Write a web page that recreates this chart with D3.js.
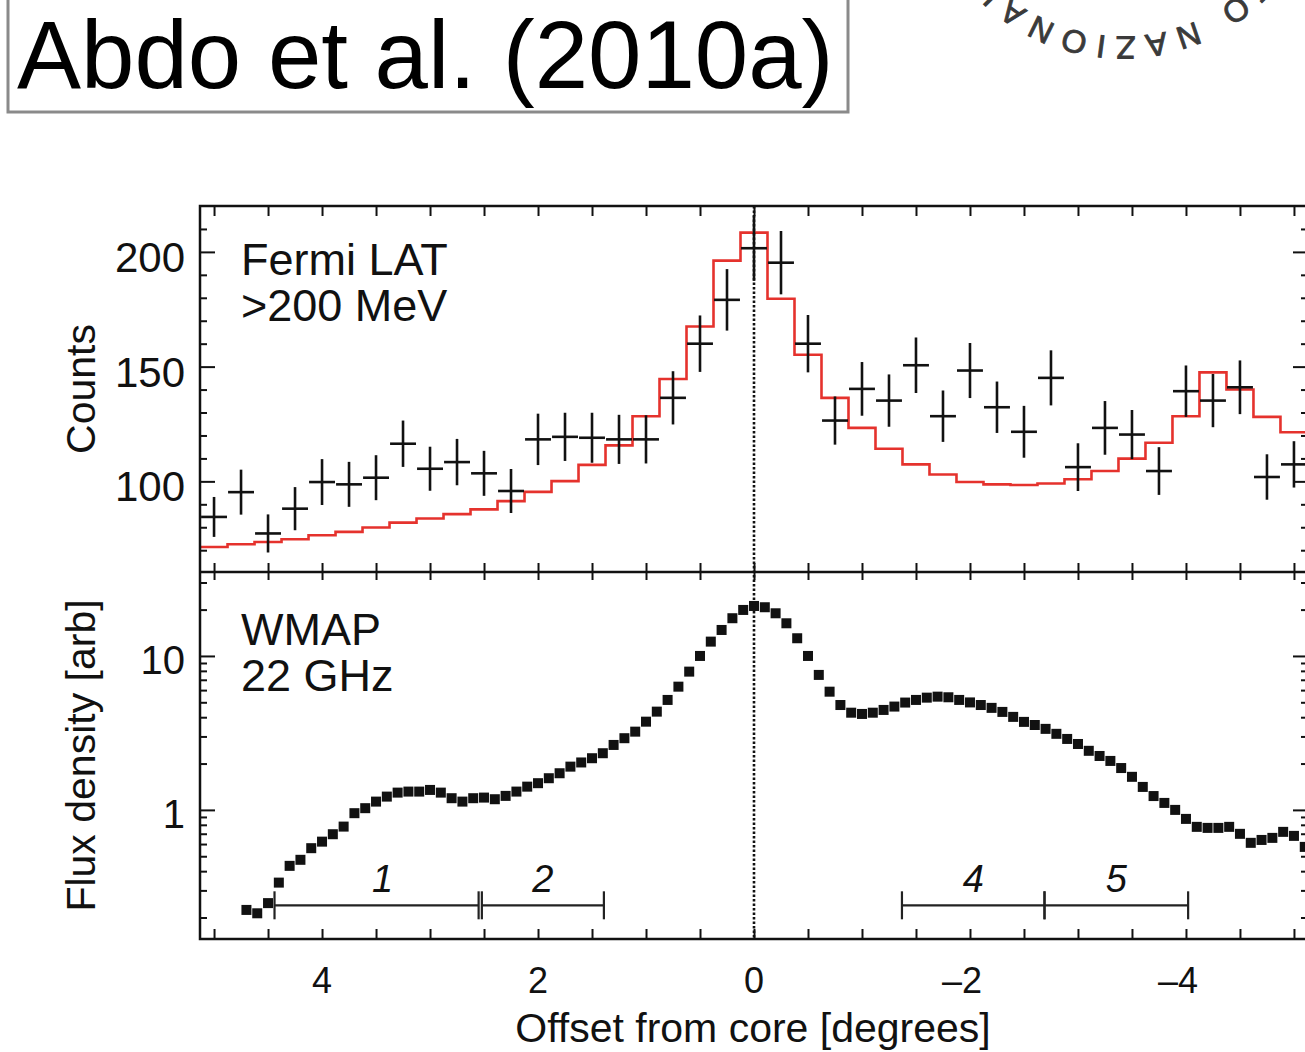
<!DOCTYPE html>
<html>
<head>
<meta charset="utf-8">
<script src="https://cdn.jsdelivr.net/npm/d3@7"></script>
<style>
  html, body { margin: 0; padding: 0; background: #fff; }
  svg { display: block; }
  text { font-family: "Liberation Sans", Arial, Helvetica, sans-serif; }
</style>
</head>
<body>
<svg id="chart" width="1305" height="1052"></svg>
<script>
// ---- Fermi LAT profile (>200 MeV), 0.25 deg bins ----
const fermiOffsets = [5.0, 4.75, 4.5, 4.25, 4.0, 3.75, 3.5, 3.25, 3.0, 2.75, 2.5, 2.25, 2.0, 1.75, 1.5, 1.25, 1.0, 0.75, 0.5, 0.25, 0.0,
  -0.25, -0.5, -0.75, -1.0, -1.25, -1.5, -1.75, -2.0, -2.25, -2.5, -2.75, -3.0, -3.25, -3.5, -3.75, -4.0, -4.25, -4.5, -4.75, -5.0];
const fermiCounts = [84.5, 95.3, 77.3, 88.1, 99.7, 98.7, 101.6, 116.4, 105.5, 108.4, 103.5, 95.8, 118.3, 119.4, 119.0, 118.3, 118.3, 136.4, 160.0, 179.1, 201.6,
  195.3, 160.0, 126.5, 140.3, 135.2, 150.6, 128.4, 148.3, 132.3, 121.6, 145.1, 106.2, 123.3, 120.4, 104.5, 139.3, 135.2, 141.0, 101.9, 107.4];
const fermiErrors = [8.7, 9.8, 8.3, 9.4, 10.0, 9.8, 9.8, 10.1, 9.6, 10.1, 9.8, 9.6, 11.2, 10.5, 10.9, 10.7, 10.5, 11.6, 12.3, 13.4, 14.2,
  13.8, 12.5, 10.5, 11.7, 11.4, 12.1, 11.2, 12.0, 11.2, 11.3, 12.0, 10.4, 11.7, 10.7, 10.4, 11.2, 11.6, 11.7, 9.9, 10.1];
// model counts per bin (red histogram)
const modelCounts = [71.4, 72.6, 73.6, 74.8, 76.5, 78.0, 79.9, 82.0, 83.8, 85.7, 87.8, 91.4, 95.4, 100.1, 107.2, 115.7, 128.4, 144.6, 167.5, 196.2, 208.4,
  179.6, 155.2, 136.4, 123.3, 114.2, 107.4, 103.0, 99.7, 98.7, 98.4, 99.1, 100.9, 104.5, 109.9, 116.8, 128.4, 147.5, 140.0, 128.1, 121.4];
const binHalfWidth = 0.125;

// ---- WMAP 22 GHz profile ----
const wmapOffsets = [4.7, 4.6, 4.5, 4.4, 4.3, 4.2, 4.1, 4.0, 3.9, 3.8, 3.7, 3.6, 3.5, 3.4, 3.3, 3.2, 3.1, 3.0, 2.9, 2.8, 2.7, 2.6, 2.5, 2.4, 2.3, 2.2, 2.1, 2.0,
  1.9, 1.8, 1.7, 1.6, 1.5, 1.4, 1.3, 1.2, 1.1, 1.0, 0.9, 0.8, 0.7, 0.6, 0.5, 0.4, 0.3, 0.2, 0.1, 0.0,
  -0.1, -0.2, -0.3, -0.4, -0.5, -0.6, -0.7, -0.8, -0.9, -1.0, -1.1, -1.2, -1.3, -1.4, -1.5, -1.6, -1.7, -1.8, -1.9, -2.0,
  -2.1, -2.2, -2.3, -2.4, -2.5, -2.6, -2.7, -2.8, -2.9, -3.0, -3.1, -3.2, -3.3, -3.4, -3.5, -3.6, -3.7, -3.8, -3.9, -4.0,
  -4.1, -4.2, -4.3, -4.4, -4.5, -4.6, -4.7, -4.8, -4.9, -5.0, -5.1];
const wmapFlux = [0.224, 0.213, 0.248, 0.337, 0.433, 0.474, 0.564, 0.622, 0.695, 0.779, 0.952, 1.026, 1.132, 1.220, 1.295, 1.315, 1.315, 1.348, 1.295, 1.191, 1.132, 1.191, 1.202, 1.173, 1.233, 1.315, 1.416, 1.491,
  1.606, 1.730, 1.910, 2.033, 2.166, 2.334, 2.642, 2.922, 3.223, 3.742, 4.348, 5.179, 6.317, 7.910, 10.0, 12.39, 14.75, 17.58, 19.90, 21.12,
  20.72, 18.93, 16.30, 13.03, 10.0, 7.53, 5.86, 4.80, 4.28, 4.20, 4.28, 4.46, 4.69, 4.98, 5.18, 5.36, 5.44, 5.39, 5.18, 4.99,
  4.80, 4.60, 4.33, 4.02, 3.73, 3.56, 3.36, 3.12, 2.89, 2.68, 2.42, 2.24, 2.08, 1.87, 1.64, 1.41, 1.23, 1.11, 1.00, 0.874,
  0.776, 0.764, 0.764, 0.776, 0.699, 0.611, 0.638, 0.658, 0.720, 0.678, 0.575];

// ---- analysis regions ----
const regionLabels = ["1", "2", "4", "5"];
const regionStarts = [4.44, 2.52, -1.37, -2.69];
const regionEnds = [2.55, 1.39, -2.69, -4.02];
const regionLevel = 0.24;

// ---- tick labels ----
const countTickLabels = [200, 150, 100];
const fluxTickLabels = [10, 1];
const offsetTickLabels = [4, 2, 0, -2, -4];

// ---- layout ----
const frameL = 200, frameR = 1308, frameT = 206, frameM = 572, frameB = 939;
const x = d3.scaleLinear().domain([5.13, -5.13]).range([frameL, frameR]);
const yC = d3.scaleLinear().domain([60.5, 220]).range([frameM, frameT]);
const yF = d3.scaleLog().domain([0.145, 35.1]).range([frameB, frameM]);

const svg = d3.select("#chart");
const ink = "#111";

// ---- citation box ----
svg.append("rect").attr("x", 8).attr("y", -10).attr("width", 840).attr("height", 122)
  .attr("fill", "#fff").attr("stroke", "#8a8a8a").attr("stroke-width", 3);
svg.append("text").attr("x", 17).attr("y", 88).attr("font-size", 96).attr("fill", "#000")
  .text("Abdo et al. (2010a)");

// ---- institute seal lettering (lower arc of the circular logo) ----
const sealCx = 1122, sealCy = -145, sealR = 181.5;
svg.append("path").attr("id", "sealArc")
  .attr("d", `M${sealCx},${sealCy - sealR} A${sealR},${sealR} 0 1 1 ${sealCx},${sealCy + sealR} A${sealR},${sealR} 0 1 1 ${sealCx},${sealCy - sealR}`)
  .attr("fill", "none").attr("stroke", "none");
svg.append("text").attr("font-size", 32).attr("fill", "#3a3a3a").attr("letter-spacing", 9)
  .attr("stroke", "#3a3a3a").attr("stroke-width", 0.9)
  .append("textPath").attr("href", "#sealArc").attr("startOffset", 259)
  .text("ISTITUTO NAZIONALE DI ASTROFISICA");

// ---- upper panel: model histogram ----
const stepPts = fermiOffsets.map((d, i) => [d + binHalfWidth, modelCounts[i]]);
stepPts.push([fermiOffsets[fermiOffsets.length - 1] - binHalfWidth, modelCounts[modelCounts.length - 1]]);
svg.append("path")
  .attr("d", d3.line().x(p => x(p[0])).y(p => yC(p[1])).curve(d3.curveStepAfter)(stepPts))
  .attr("fill", "none").attr("stroke", "#e5322d").attr("stroke-width", 2.6);

// ---- upper panel: counts with error bars ----
const crosses = svg.append("g").attr("stroke", ink).attr("stroke-width", 2.6);
fermiOffsets.forEach((d, i) => {
  const c = fermiCounts[i], e = fermiErrors[i];
  crosses.append("line").attr("x1", x(d)).attr("x2", x(d)).attr("y1", yC(c - e)).attr("y2", yC(c + e));
  crosses.append("line").attr("x1", x(d + 0.12)).attr("x2", x(d - 0.12)).attr("y1", yC(c)).attr("y2", yC(c));
});

// ---- lower panel: WMAP squares ----
const sq = 10;
svg.append("g").selectAll("rect").data(wmapOffsets).join("rect")
  .attr("x", (d) => x(d) - sq / 2)
  .attr("y", (d, i) => yF(wmapFlux[i]) - sq / 2)
  .attr("width", sq).attr("height", sq).attr("fill", ink);

// ---- lower panel: region bars ----
const reg = svg.append("g").attr("stroke", "#222").attr("stroke-width", 2.2);
const yr = yF(regionLevel);
regionLabels.forEach((lab, i) => {
  const x0 = x(regionStarts[i]), x1 = x(regionEnds[i]);
  reg.append("line").attr("x1", x0).attr("x2", x1).attr("y1", yr).attr("y2", yr);
  reg.append("line").attr("x1", x0).attr("x2", x0).attr("y1", yr - 14).attr("y2", yr + 14);
  reg.append("line").attr("x1", x1).attr("x2", x1).attr("y1", yr - 14).attr("y2", yr + 14);
  svg.append("text").attr("x", (x0 + x1) / 2 + (i === 0 ? 6 : 0)).attr("y", yr - 13)
    .attr("text-anchor", "middle").attr("font-size", 38).attr("font-style", "italic").attr("fill", "#111")
    .text(lab);
});

// ---- zero-offset dotted line ----
svg.append("line").attr("x1", x(0)).attr("x2", x(0)).attr("y1", frameT).attr("y2", frameB)
  .attr("stroke", ink).attr("stroke-width", 2.6).attr("stroke-dasharray", "2.5,2");

// ---- axes: ticks ----
const halfDeg = d3.range(-10, 11).map(k => k / 2);
function styleAxis(g) {
  g.select(".domain").remove();
  g.selectAll(".tick line").attr("stroke", ink).attr("stroke-width", 2);
  g.selectAll(".tick text").remove();
}
// x ticks on all horizontal frame lines, pointing inward
svg.append("g").attr("transform", `translate(0,${frameT})`).call(d3.axisBottom(x).tickValues(halfDeg).tickSize(10)).call(styleAxis);
svg.append("g").attr("transform", `translate(0,${frameM})`).call(d3.axisTop(x).tickValues(halfDeg).tickSize(9)).call(styleAxis);
svg.append("g").attr("transform", `translate(0,${frameM})`).call(d3.axisBottom(x).tickValues(halfDeg).tickSize(8)).call(styleAxis);
svg.append("g").attr("transform", `translate(0,${frameB})`).call(d3.axisTop(x).tickValues(halfDeg).tickSize(10)).call(styleAxis);

// count ticks: every 10, longer every 50
const countMinor = d3.range(70, 220, 10).filter(v => v % 50 !== 0);
const countMajor = [100, 150, 200];
[[frameL, d3.axisRight], [frameR, d3.axisLeft]].forEach(([px, ax]) => {
  svg.append("g").attr("transform", `translate(${px},0)`).call(ax(yC).tickValues(countMinor).tickSize(7)).call(styleAxis);
  svg.append("g").attr("transform", `translate(${px},0)`).call(ax(yC).tickValues(countMajor).tickSize(15)).call(styleAxis);
});
// flux ticks: logarithmic
const fluxMinor = [0.2, 0.3, 0.4, 0.5, 0.6, 0.7, 0.8, 0.9, 2, 3, 4, 5, 6, 7, 8, 9, 20, 30];
const fluxMajor = [1, 10];
[[frameL, d3.axisRight], [frameR, d3.axisLeft]].forEach(([px, ax]) => {
  svg.append("g").attr("transform", `translate(${px},0)`).call(ax(yF).tickValues(fluxMinor).tickSize(7)).call(styleAxis);
  svg.append("g").attr("transform", `translate(${px},0)`).call(ax(yF).tickValues(fluxMajor).tickSize(15)).call(styleAxis);
});

// ---- frame ----
svg.append("rect").attr("x", frameL).attr("y", frameT).attr("width", frameR - frameL).attr("height", frameB - frameT)
  .attr("fill", "none").attr("stroke", ink).attr("stroke-width", 2.5);
svg.append("line").attr("x1", frameL).attr("x2", frameR).attr("y1", frameM).attr("y2", frameM)
  .attr("stroke", ink).attr("stroke-width", 2.5);

// ---- tick labels ----
svg.append("g").selectAll("text").data(countTickLabels).join("text")
  .attr("x", 185).attr("y", d => yC(d) + 20).attr("text-anchor", "end")
  .attr("font-size", 42).attr("fill", ink).text(d => d);
svg.append("g").selectAll("text").data(fluxTickLabels).join("text")
  .attr("x", 185).attr("y", d => yF(d) + 18).attr("text-anchor", "end")
  .attr("font-size", 40).attr("fill", ink).text(d => d);
svg.append("g").selectAll("text").data(offsetTickLabels).join("text")
  .attr("x", d => x(d) + (d < 0 ? -8 : 0)).attr("y", 993).attr("text-anchor", "middle")
  .attr("font-size", 36).attr("fill", ink).text(d => d < 0 ? "\u2013" + (-d) : d);

// ---- axis titles ----
svg.append("text").attr("transform", `translate(95,${(frameT + frameM) / 2}) rotate(-90)`)
  .attr("text-anchor", "middle").attr("font-size", 41).attr("fill", ink).text("Counts");
svg.append("text").attr("transform", `translate(95,${(frameM + frameB) / 2}) rotate(-90)`)
  .attr("text-anchor", "middle").attr("font-size", 41).attr("fill", ink).text("Flux density [arb]");
svg.append("text").attr("x", 753).attr("y", 1042).attr("text-anchor", "middle")
  .attr("font-size", 41).attr("fill", ink).text("Offset from core [degrees]");

// ---- panel annotations ----
svg.append("text").attr("x", 241).attr("y", 275).attr("font-size", 45).attr("fill", ink).text("Fermi LAT");
svg.append("text").attr("x", 241).attr("y", 321).attr("font-size", 45).attr("fill", ink).text(">200 MeV");
svg.append("text").attr("x", 241).attr("y", 645).attr("font-size", 45).attr("fill", ink).text("WMAP");
svg.append("text").attr("x", 241).attr("y", 691).attr("font-size", 45).attr("fill", ink).text("22 GHz");
</script>
</body>
</html>
